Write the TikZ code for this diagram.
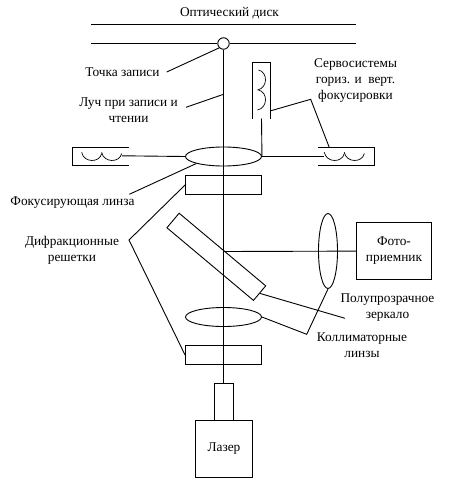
\documentclass[tikz,border=0pt]{standalone}
\usepackage{fontspec}
\setmainfont{Liberation Serif}
\usetikzlibrary{shapes.geometric}

\tikzset{
  part/.style={draw,rectangle,inner sep=0pt},
  lens/.style={draw,ellipse,inner sep=0pt},
  lbl/.style={align=center,inner sep=0pt,font=\fontsize{13.33}{16}\selectfont},
  coil/.style={line width=0.7pt},
}

\begin{document}
\begin{tikzpicture}[x=1pt,y=-1pt,line width=0.9pt]
\useasboundingbox (0,0) rectangle (459,479);

% positions
\def\xbeam{223.5}

% disc
\node[lbl] (disc) at (229.5,13.5) {Оптический диск};
\coordinate (d1) at (91,24.5);
\coordinate (d2) at (356,24.5);
\coordinate (d3) at (91,43.5);
\coordinate (d4) at (356,43.5);
\node[draw,circle,inner sep=0pt,minimum size=11.5pt] (spot) at (\xbeam,43.5) {};

% optics
\node[lens,minimum width=76pt,minimum height=19pt] (lensf) at (\xbeam,156.5) {};
\node[part,minimum width=76pt,minimum height=19pt] (grat1) at (\xbeam,185) {};
\node[part,minimum width=113pt,minimum height=19pt,rotate=-40] (mirror) at (216.3,256.8) {};
\node[lens,minimum width=76pt,minimum height=19pt] (lensc) at (\xbeam,317) {};
\node[part,minimum width=76pt,minimum height=19pt] (grat2) at (\xbeam,355) {};
\node[lens,minimum width=19pt,minimum height=75pt] (lensv) at (328,251) {};
\node[part,minimum width=75pt,minimum height=57pt,lbl] (photo) at (394,251) {Фото-\\приемник};
\node[part,minimum width=19pt,minimum height=37pt] (tube) at (224,402) {};
\node[part,minimum width=57pt,minimum height=57pt,lbl] (laser) at (224,449) {Лазер};

% labels
\node[lbl] (point) at (122.5,72.5) {Точка записи};
\node[lbl] (ray) at (128.5,110.5) {Луч при записи и\\чтении};
\node[lbl] (servo) at (355.5,80.5) {Сервосистемы\\гориз. и\ \ верт.\\фокусировки};
\node[lbl] (focus) at (72.5,202.5) {Фокусирующая линза};
\node[lbl] (diff) at (72,250.5) {Дифракционные\\решетки};
\node[lbl] (semi) at (387.5,308) {Полупрозрачное\\зеркало};
\node[lbl] (coll) at (362,345.5) {Коллиматорные\\линзы};

% free ends
\coordinate (split) at (\xbeam,251.5);
\coordinate (p1) at (166.7,72);
\coordinate (r1) at (186,107.3);
\coordinate (r2) at (\xbeam,94.3);
\coordinate (f1) at (129.3,194.3);
\coordinate (g1) at (129,240);
\coordinate (s1) at (271,110.7);
\coordinate (s2) at (310.7,99.3);
\coordinate (s3) at (329.3,147.5);
\coordinate (m1) at (345,318.3);
\coordinate (c1) at (306.7,334.3);
\coordinate (cl) at (122,155.8);
\coordinate (cr) at (324.3,156.5);
\coordinate (cv) at (261.5,118.5);

% servo housings
\draw (129,147.5) -- (72.5,147.5) -- (72.5,165.5) -- (129,165.5);
\draw (318,147.5) -- (374.5,147.5) -- (374.5,165.5) -- (318,165.5);
\draw (252.5,118.5) -- (252.5,62.5) -- (270.5,62.5) -- (270.5,118.5);

% coils
\foreach \x in {81.7,101.7,324.3,344.3}
  \draw[coil] (\x,152.3) .. controls (\x+2,163) and (\x+18,163) .. (\x+20,153.5);
\foreach \y in {70,90}
  \draw[coil] (258.5,\y) .. controls (268,\y+2) and (268,\y+18) .. (257.5,\y+20);

% disc and beams
\draw (d1) -- (d2);
\draw (d3) -- (spot);
\draw (spot) -- (d4);
\draw (spot) -- (spot |- tube.north);
\draw (split) -- (photo);

% servo links
\draw (cl) -- (lensf.west);
\draw (lensf.east) -- (cr);
\draw (lensf.east) -- (cv);

% leaders
\draw (p1) -- (spot.south west);
\draw (r1) -- (r2);
\draw (f1) -- (lensf.south west);
\draw (grat1.west) -- (g1) -- (grat2.west);
\draw (s1) -- (s2) -- (s3);
\draw (mirror.east) -- (m1);
\draw (lensc.east) -- (c1) -- (lensv.south);

\end{tikzpicture}
\end{document}
